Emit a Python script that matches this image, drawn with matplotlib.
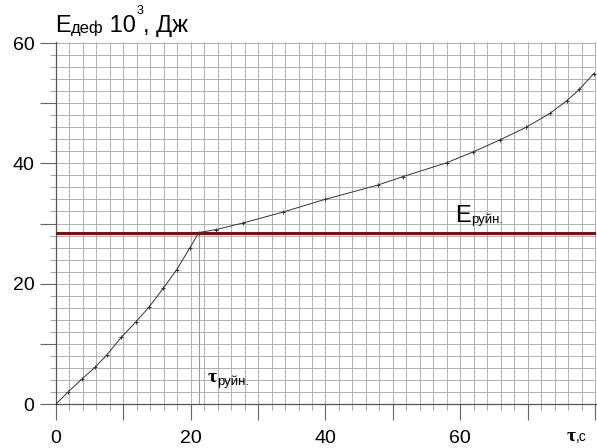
import numpy as np
import matplotlib
matplotlib.use("Agg")
import matplotlib.pyplot as plt
from matplotlib.ticker import FixedLocator, FuncFormatter

# Деформационная энергия образца во времени
tau = [0, 1.8, 3.8, 5.8, 7.5, 9.7, 11.9, 13.8, 15.9, 17.9, 19.9, 21.2,
       23.8, 27.8, 33.7, 39.9, 47.8, 51.5, 58.0, 61.9, 65.9, 69.8,
       73.3, 75.8, 77.7, 79.8]
energy = [0, 2.0, 4.1, 6.1, 8.1, 11.1, 13.7, 16.1, 19.2, 22.3, 26.0, 28.5,
          29.0, 30.1, 31.9, 34.0, 36.4, 37.8, 40.1, 41.9, 43.9, 46.0,
          48.3, 50.4, 52.3, 54.9]
# Критические значения (разрушение)
e_ruin = 28.5
tau_ruin = 21.2

W, H = 597, 448
fig = plt.figure(figsize=(W / 100, H / 100), dpi=100)
fig.patch.set_facecolor("white")
plt.rcParams["font.family"] = ["Liberation Sans", "DejaVu Sans"]

ax = fig.add_axes([56 / W, 44 / H, 540 / W, 362.2 / H])
ax.set_xlim(0, 80.15)
ax.set_ylim(0, 60.2)

# сетка через 2 единицы, крупные штрихи через 10
ax.xaxis.set_major_locator(FixedLocator(np.arange(0, 81, 10)))
ax.yaxis.set_major_locator(FixedLocator(np.arange(0, 61, 10)))
ax.xaxis.set_minor_locator(FixedLocator(np.arange(0, 81, 2)))
ax.yaxis.set_minor_locator(FixedLocator(np.arange(0, 61, 2)))
fmt = FuncFormatter(lambda v, p: f"{v:.0f}" if round(v) % 20 == 0 and v < 79 else "")
ax.xaxis.set_major_formatter(fmt)
ax.yaxis.set_major_formatter(fmt)
ax.grid(which="both", color="#a6a6a6", lw=0.6)
ax.set_axisbelow(True)

ax.tick_params(which="major", direction="out", length=11.5, width=0.8,
               color="#666666", labelsize=14, pad=7)
ax.tick_params(axis="y", which="major", pad=4)
ax.tick_params(which="minor", direction="out", length=4.5, width=0.6,
               color="#999999")
for s in ["top", "right"]:
    ax.spines[s].set_visible(False)
for s in ["left", "bottom"]:
    ax.spines[s].set_color("#555555")
    ax.spines[s].set_linewidth(0.9)

# линия энергии разрушения и время разрушения
ax.axhline(e_ruin, color="#7a1414", lw=2.2, zorder=3)
ax.plot([tau_ruin, tau_ruin], [0, e_ruin], color="#9a9a9a", lw=0.8, zorder=2)

# кривая
ax.plot(tau, energy, color="#333333", lw=0.7, marker="+", ms=3, mew=0.7, zorder=4)

fig.canvas.draw()
renderer = fig.canvas.get_renderer()


def chain(x, y, pieces):
    # последовательность кусков текста; x, y - пиксели от левого верхнего угла
    for s, size, dy, fam, w in pieces:
        t = fig.text(x / W, 1 - (y + dy) / H, s, fontsize=size, family=fam,
                     fontweight=w, va="baseline", ha="left", color="black")
        x += t.get_window_extent(renderer).width


sans = ["Liberation Sans", "DejaVu Sans"]
serif = ["Liberation Serif", "DejaVu Serif"]

chain(55, 32, [("E", 17, 0, sans, "normal"),
               ("деф", 12, 1, sans, "normal"),
               (" 10", 17, 0, sans, "normal"),
               ("3", 9, -18, sans, "normal"),
               (", Дж", 17, 0, sans, "normal")])

chain(455, 222, [("E", 17, 0, sans, "normal"),
                 ("руйн.", 9.5, 1, sans, "normal")])

chain(208, 382, [("τ", 14, 0, serif, "bold"),
                 ("руйн.", 9.5, 3, sans, "normal")])

chain(567, 441, [("τ", 14, 0, serif, "bold"),
                 (",с", 10, 0, sans, "normal")])

fig.savefig("out.png", dpi=100, facecolor="white")
